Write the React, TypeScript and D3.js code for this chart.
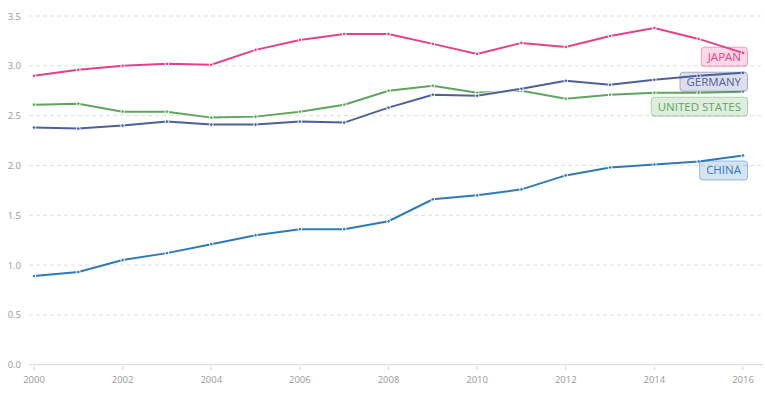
import React, { useEffect, useRef } from "react";
import * as d3 from "d3";

const years = d3.range(2000, 2017);
const seriesNames = ["JAPAN", "GERMANY", "UNITED STATES", "CHINA"];
const seriesColors = ["#e5408a", "#4f5f9a", "#5ea55e", "#2f7ab8"];

const japan = [2.90, 2.96, 3.00, 3.02, 3.01, 3.16, 3.26, 3.32, 3.32, 3.22, 3.12, 3.23, 3.19, 3.30, 3.38, 3.27, 3.13];
const germany = [2.38, 2.37, 2.40, 2.44, 2.41, 2.41, 2.44, 2.43, 2.58, 2.71, 2.70, 2.77, 2.85, 2.81, 2.86, 2.90, 2.93];
const unitedStates = [2.61, 2.62, 2.54, 2.54, 2.48, 2.49, 2.54, 2.61, 2.75, 2.80, 2.73, 2.75, 2.67, 2.71, 2.73, 2.73, 2.74];
const china = [0.89, 0.93, 1.05, 1.12, 1.21, 1.30, 1.36, 1.36, 1.44, 1.66, 1.70, 1.76, 1.90, 1.98, 2.01, 2.04, 2.10];

const allSeries = [japan, germany, unitedStates, china];
const yTicks = [0, 0.5, 1, 1.5, 2, 2.5, 3, 3.5];
const xTicks = [2000, 2002, 2004, 2006, 2008, 2010, 2012, 2014, 2016];

export default function App() {
  const ref = useRef<SVGSVGElement>(null);

  useEffect(() => {
    const W = 765, H = 393;
    const left = 34, right = 743, top = 16, bottom = 364.7;
    const svg = d3.select(ref.current);
    svg.selectAll("*").remove();
    const font = "'Open Sans', sans-serif";

    const x = d3.scaleLinear().domain([2000, 2016]).range([left, right]);
    const y = d3.scaleLinear().domain([0, 3.5]).range([bottom, top]);

    // grid lines
    svg.append("g")
      .selectAll("line")
      .data(yTicks.filter(d => d > 0))
      .join("line")
      .attr("x1", 29).attr("x2", 763)
      .attr("y1", d => y(d)).attr("y2", d => y(d))
      .attr("stroke", "#dedede")
      .attr("stroke-dasharray", "4,3");

    // baseline
    svg.append("line")
      .attr("x1", 29).attr("x2", 763)
      .attr("y1", y(0)).attr("y2", y(0))
      .attr("stroke", "#d8d8d8");

    // y labels
    svg.append("g")
      .selectAll("text")
      .data(yTicks)
      .join("text")
      .attr("x", 21)
      .attr("y", d => y(d) + 3.5)
      .attr("text-anchor", "end")
      .attr("font-family", font)
      .attr("font-size", 9.5)
      .attr("fill", "#999")
      .text(d => d.toFixed(1));

    // x ticks and labels
    const xg = svg.append("g");
    xg.selectAll("line")
      .data(xTicks)
      .join("line")
      .attr("x1", d => x(d)).attr("x2", d => x(d))
      .attr("y1", y(0) + 2).attr("y2", y(0) + 5)
      .attr("stroke", "#ccc");
    xg.selectAll("text")
      .data(xTicks)
      .join("text")
      .attr("x", d => x(d))
      .attr("y", y(0) + 18)
      .attr("text-anchor", "middle")
      .attr("font-family", font)
      .attr("font-size", 9.5)
      .attr("fill", "#999")
      .text(d => d);

    const line = d3.line<number>()
      .x((_, i) => x(years[i]))
      .y(d => y(d));

    // draw bottom-up so Japan ends on top
    const order = [3, 2, 1, 0];
    order.forEach(si => {
      const data = allSeries[si];
      const c = seriesColors[si];
      const g = svg.append("g");
      g.append("path")
        .datum(data)
        .attr("d", line)
        .attr("fill", "none")
        .attr("stroke", "#fff")
        .attr("stroke-width", 4)
        .attr("stroke-opacity", 0.8);
      g.append("path")
        .datum(data)
        .attr("d", line)
        .attr("fill", "none")
        .attr("stroke", c)
        .attr("stroke-width", 2);
      g.selectAll("circle")
        .data(data)
        .join("circle")
        .attr("cx", (_, i) => x(years[i]))
        .attr("cy", d => y(d))
        .attr("r", 1.8)
        .attr("fill", c)
        .attr("stroke", "#fff")
        .attr("stroke-width", 1);
    });

    // labels: place below end point, push up to avoid overlap
    const boxH = 20, gap = 5;
    const ends = allSeries.map(s => y(s[s.length - 1]));
    const tops: number[] = ends.map(e => e + 5);
    const idx = d3.range(allSeries.length).sort((a, b) => ends[b] - ends[a]);
    for (let k = 1; k < idx.length; k++) {
      const below = idx[k - 1], cur = idx[k];
      tops[cur] = Math.min(tops[cur], tops[below] - boxH - gap);
    }

    const rightEdge = 748;
    seriesNames.forEach((name, si) => {
      const c = seriesColors[si];
      const g = svg.append("g");
      const t = g.append("text")
        .attr("x", rightEdge - 7)
        .attr("y", tops[si] + 14)
        .attr("text-anchor", "end")
        .attr("font-family", font)
        .attr("font-size", 11.5)
        .attr("fill", c)
        .text(name);
      const w = (t.node() as SVGTextElement).getComputedTextLength() + 14;
      g.insert("rect", "text")
        .attr("x", rightEdge - w + 0.5)
        .attr("y", tops[si] + 0.5)
        .attr("width", w - 1)
        .attr("height", boxH - 1)
        .attr("rx", 3)
        .attr("fill", c)
        .attr("fill-opacity", 0.2)
        .attr("stroke", c)
        .attr("stroke-opacity", 0.45);
    });

    svg.attr("width", W).attr("height", H);
  }, []);

  return (
    <svg
      ref={ref}
      width={765}
      height={393}
      style={{ position: "absolute", left: 0, top: 0, background: "#fff" }}
    />
  );
}
